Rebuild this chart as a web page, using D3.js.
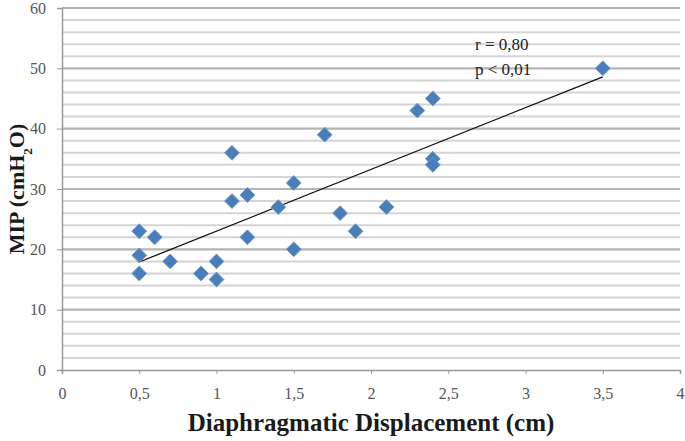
<!DOCTYPE html>
<html>
<head>
<meta charset="utf-8">
<script src="https://cdn.jsdelivr.net/npm/d3@7"></script>
<style>
  body { margin: 0; background: #fff; }
  svg text { font-family: "Liberation Serif", "Times New Roman", serif !important; }
</style>
</head>
<body>
<div class="chart"></div>
<script>
var width = 685, height = 441;

// displacement (cm) and MIP (cmH2O)
var displacement = [0.5, 0.5, 0.5, 0.6, 0.7, 0.9, 1.0, 1.0, 1.1, 1.1, 1.2, 1.2, 1.4, 1.5, 1.5, 1.7, 1.8, 1.9, 2.1, 2.3, 2.4, 2.4, 2.4, 3.5];
var mip = [23, 19, 16, 22, 18, 16, 18, 15, 36, 28, 29, 22, 27, 31, 20, 39, 26, 23, 27, 43, 45, 35, 34, 50];
var trendX = [0.5, 3.5];
var trendY = [17.9, 48.6];
var xTicks = [0, 0.5, 1, 1.5, 2, 2.5, 3, 3.5, 4];
var yTicks = [0, 10, 20, 30, 40, 50, 60];
var yMinor = d3.range(0, 61, 2);

var margin = { left: 62, right: 4, top: 8, bottom: 71 };

var svg = d3.select('.chart')
    .append('svg')
    .attr('width', width)
    .attr('height', height);

var x = d3.scaleLinear().domain([0, 4]).range([margin.left, width - margin.right - 1]);
var y = d3.scaleLinear().domain([0, 60]).range([height - margin.bottom, margin.top]);

// gridlines, light every 2, darker every 10
svg.append('g')
    .selectAll('line')
    .data(yMinor.filter(d => d % 10 != 0))
    .enter()
    .append('line')
    .attr('x1', x(0))
    .attr('x2', x(4))
    .attr('y1', d => y(d))
    .attr('y2', d => y(d))
    .attr('stroke', '#d4d4d4')
    .attr('stroke-width', 2);

svg.append('g')
    .selectAll('line')
    .data(yTicks.filter(d => d > 0))
    .enter()
    .append('line')
    .attr('x1', x(0))
    .attr('x2', x(4))
    .attr('y1', d => y(d))
    .attr('y2', d => y(d))
    .attr('stroke', '#b4b4b4')
    .attr('stroke-width', 2.2);

// axes
var xAxis = svg.append('g')
    .attr('transform', 'translate(0,' + y(0) + ')')
    .call(d3.axisBottom(x).tickValues(xTicks).tickSize(4).tickFormat(d => String(d).replace('.', ',')));
var yAxis = svg.append('g')
    .attr('transform', 'translate(' + x(0) + ',0)')
    .call(d3.axisLeft(y).tickValues(yTicks).tickSize(5));

[xAxis, yAxis].forEach(function (a) {
    a.attr('font-family', 'Liberation Serif').attr('font-size', 16);
    a.select('.domain').attr('stroke', '#999').attr('stroke-width', 1.5);
    a.selectAll('.tick line').attr('stroke', '#999');
    a.selectAll('.tick text')
        .attr('fill', '#555')
        .attr('font-family', 'Liberation Serif');
});
xAxis.selectAll('.tick text').attr('dy', '1.4em');
yAxis.selectAll('.tick text').attr('x', -16);

// trend line
svg.append('line')
    .attr('x1', x(trendX[0]))
    .attr('y1', y(trendY[0]))
    .attr('x2', x(trendX[1]))
    .attr('y2', y(trendY[1]))
    .attr('stroke', '#111')
    .attr('stroke-width', 1.3);

// points
var diamond = d3.symbol().type(d3.symbolDiamond2).size(140);
svg.append('g')
    .selectAll('path')
    .data(d3.range(displacement.length))
    .enter()
    .append('path')
    .attr('d', diamond)
    .attr('transform', i => 'translate(' + x(displacement[i]) + ',' + y(mip[i]) + ')')
    .attr('fill', '#4a7ebb')
    .attr('stroke', '#7099cc')
    .attr('stroke-width', 1);

// annotation
svg.append('text')
    .attr('x', 475)
    .attr('y', 50)
    .style('font-size', '17px')
    .attr('fill', '#222')
    .text('r = 0,80');
svg.append('text')
    .attr('x', 475)
    .attr('y', 75)
    .style('font-size', '17px')
    .attr('fill', '#222')
    .text('p < 0,01');

// axis titles
svg.append('text')
    .attr('x', (x(0) + x(4)) / 2)
    .attr('y', 431)
    .attr('text-anchor', 'middle')
    .style('font-size', '25px')
    .style('font-weight', 'bold')
    .attr('fill', '#1a1a1a')
    .text('Diaphragmatic Displacement (cm)');

var yt = svg.append('text')
    .attr('transform', 'translate(24,' + y(30) + ') rotate(-90)')
    .attr('text-anchor', 'middle')
    .style('font-size', '22px')
    .style('font-weight', 'bold')
    .attr('fill', '#1a1a1a');
yt.append('tspan').text('MIP (cmH');
yt.append('tspan').attr('baseline-shift', 'sub').style('font-size', '13px').text('2');
yt.append('tspan').text('O)');
</script>
</body>
</html>
